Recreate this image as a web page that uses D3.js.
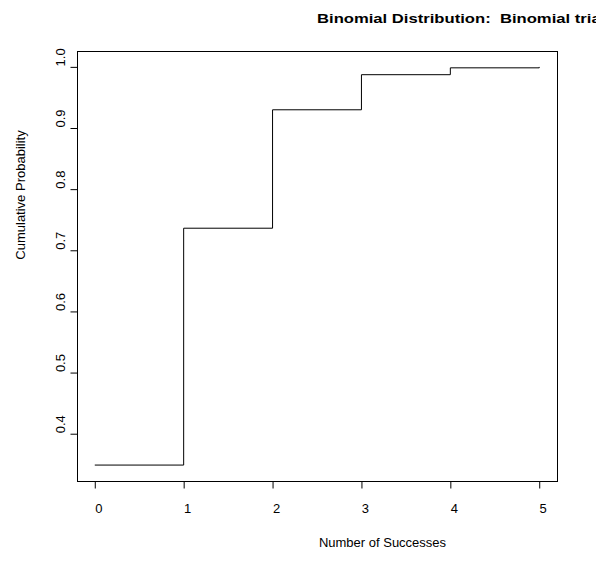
<!doctype html>
<html>
<head>
<script src="https://d3js.org/d3.v7.min.js"></script>
<style>
  body { margin: 0; background: #fff; }
  text { font-family: "Liberation Sans", Arial, sans-serif; fill: #000; }
</style>
</head>
<body>
<script>
    // data (cumulative binomial, 0..5 successes)
    var successes = [0, 1, 2, 3, 4, 5];
    var cumProb = [0.3487, 0.7361, 0.9298, 0.9872, 0.9984, 0.9999];
    var xTicks = [0, 1, 2, 3, 4, 5];
    var yTicks = [0.4, 0.5, 0.6, 0.7, 0.8, 0.9, 1.0];

    var W = 596, H = 567;
    var plotLeft = 77, plotRight = 557, plotTop = 51, plotBottom = 481;

    var svg = d3.select("body").append("svg")
        .attr("width", W)
        .attr("height", H);

    // R style 4% axis extension
    var xMin = d3.min(successes), xMax = d3.max(successes);
    var yMin = d3.min(cumProb), yMax = d3.max(cumProb);
    var xPad = (xMax - xMin) * 0.04, yPad = (yMax - yMin) * 0.04;

    var x = d3.scaleLinear().domain([xMin - xPad, xMax + xPad]).range([plotLeft, plotRight]);
    var y = d3.scaleLinear().domain([yMin - yPad, yMax + yPad]).range([plotBottom, plotTop]);

    // step line
    var line = d3.line()
        .x(function(d, i) { return x(successes[i]); })
        .y(function(d) { return y(d); })
        .curve(d3.curveStepAfter);

    svg.append("path")
        .datum(cumProb)
        .attr("d", line)
        .attr("fill", "none")
        .attr("stroke", "#000")
        .attr("stroke-width", 1);

    // box
    svg.append("rect")
        .attr("x", plotLeft + 0.5)
        .attr("y", plotTop + 0.5)
        .attr("width", plotRight - plotLeft)
        .attr("height", plotBottom - plotTop)
        .attr("fill", "none")
        .attr("stroke", "#000")
        .attr("stroke-width", 1);

    // x axis (labels sit a little right of their ticks in the original)
    var gx = svg.append("g")
        .attr("transform", "translate(0," + (plotBottom + 0.5) + ")")
        .call(d3.axisBottom(x).tickValues(xTicks).tickSize(7).tickPadding(15)
            .tickFormat(d3.format("d")));
    gx.select(".domain").remove();
    gx.selectAll("text")
        .attr("font-family", null)
        .attr("x", 3.5)
        .style("font-size", "13px");

    // y axis, labels rotated like R and a bit above their ticks
    var gy = svg.append("g")
        .attr("transform", "translate(" + (plotLeft + 0.5) + ",0)")
        .call(d3.axisLeft(y).tickValues(yTicks).tickSize(7)
            .tickFormat(d3.format(".1f")));
    gy.select(".domain").remove();
    gy.selectAll("text")
        .attr("font-family", null)
        .attr("transform", "rotate(-90)")
        .attr("x", 10)
        .attr("y", -12.5)
        .attr("dy", 0)
        .attr("text-anchor", "middle")
        .style("font-size", "13px");

    // title (runs off the right edge as in the original)
    svg.append("text")
        .attr("transform", "translate(317,23) scale(1.28,1)")
        .style("font-size", "13px")
        .style("font-weight", "bold")
        .style("white-space", "pre")
        .text("Binomial Distribution:  Binomial trials");

    svg.append("text")
        .attr("x", 382.5)
        .attr("y", 546.5)
        .attr("text-anchor", "middle")
        .style("font-size", "13px")
        .text("Number of Successes");

    svg.append("text")
        .attr("transform", "translate(24.5,195) rotate(-90)")
        .attr("text-anchor", "middle")
        .style("font-size", "13px")
        .text("Cumulative Probability");
</script>
</body>
</html>
